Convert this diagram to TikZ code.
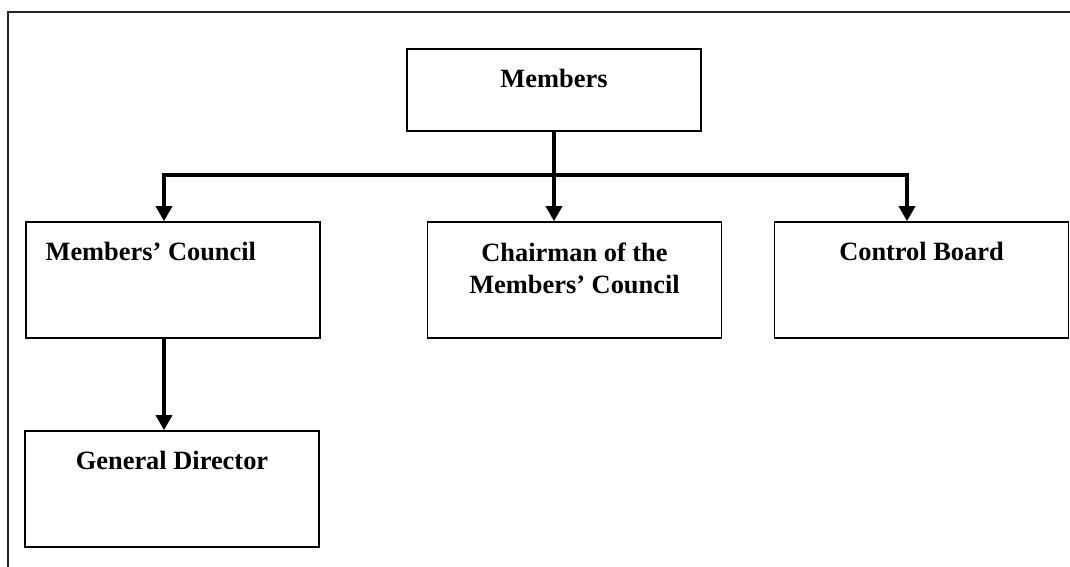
\documentclass[tikz,border=0pt]{standalone}
\usepackage{fontspec}
\setmainfont{Liberation Serif}
\usetikzlibrary{arrows.meta}

\tikzset{
    box/.style={draw, line width=0.8pt, minimum width=147pt, minimum height=58pt, inner sep=0pt},
    boxtext/.style={anchor=north, inner sep=0pt, yshift=-10.5pt, align=center, font=\fontsize{13.2}{16}\selectfont\bfseries},
    link/.style={line width=1.7pt},
}

\begin{document}
\begin{tikzpicture}[x=0.5pt, y=-0.5pt, >={Triangle[length=7.5pt, width=8pt]}]
        \useasboundingbox (0, 0) rectangle (1070, 567);
        \draw[line width=1pt, black!85] (1070, 12) -- (8, 12) -- (8, 567);

        \node[box, minimum height=41pt, label={[boxtext]north:Members}] (members) at (554, 90) {};
        \node[box, label={[boxtext, anchor=north west, xshift=10pt]north west:Members' Council}] (council) at (173, 280) {};
        \node[box, label={[boxtext]north:Chairman of the\\Members' Council}] (chairman) at (574.5, 280) {};
        \node[box, label={[boxtext]north:Control Board}] (control) at (921.5, 280) {};
        \node[box, label={[boxtext]north:General Director}] (director) at (172, 489) {};

        \coordinate (left) at (164, 175);
        \coordinate (right) at (907, 175);

        \draw[link] (members.south) -- (members.south |- left);
        \draw[link, <->] (left |- council.north) -- (left) -- (right) -- (right |- control.north);
        \draw[link, ->] (members.south |- left) -- (members.south |- chairman.north);
        \draw[link, ->] (left |- council.south) -- (left |- director.north);
    \end{tikzpicture}
\end{document}
